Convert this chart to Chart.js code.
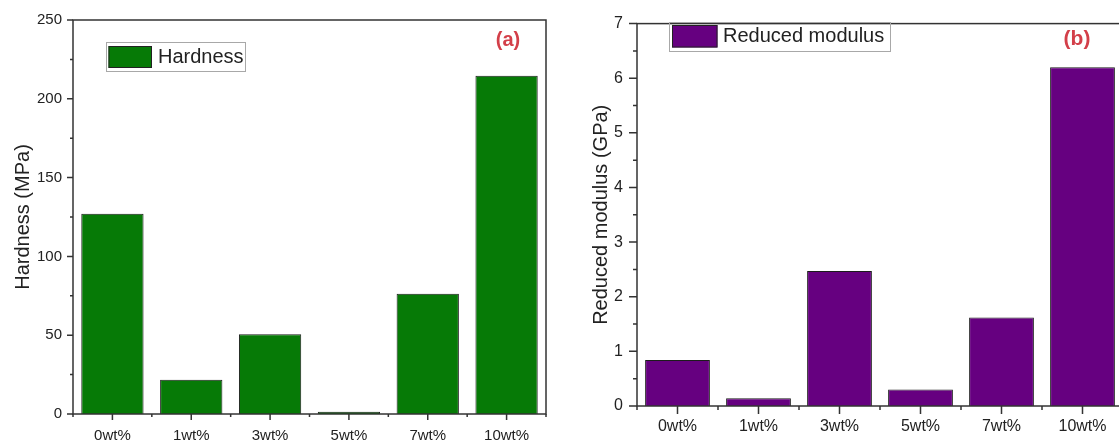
<!DOCTYPE html>
<html><head><meta charset="utf-8">
<script src="https://cdn.jsdelivr.net/npm/chart.js@4"></script>
<style>
html,body{margin:0;padding:0;background:#fff;overflow:hidden;width:1119px;height:447px;position:relative;}
#wa{position:absolute;left:0;top:0;width:560px;height:447px;}
#wb{position:absolute;left:560px;top:0;width:580px;height:447px;}
canvas{display:block;}
</style></head><body>
<div id="wa"><canvas id="ca" width="560" height="447"></canvas></div>
<div id="wb"><canvas id="cb" width="580" height="447"></canvas></div>
<script>
// ---- data ----
const categories = ['0wt%', '1wt%', '3wt%', '5wt%', '7wt%', '10wt%'];
const hardness = [127, 21.7, 50.6, 1.5, 76.3, 214.7];
const reducedModulus = [0.84, 0.14, 2.47, 0.30, 1.62, 6.20];
const hardnessAxis = [0, 250, 50];     // min, max, step
const modulusAxis = [0, 7, 1];

const FAMILY = "'Liberation Sans', Arial, Helvetica, sans-serif";
const INK = '#222';

const framePlugin = {
  id: 'frame',
  afterDraw(chart, args, o) {
    const {ctx, chartArea: a, scales: {x, y}} = chart;
    ctx.save();
    ctx.strokeStyle = '#333';
    ctx.lineWidth = o.lw;
    ctx.strokeRect(a.left, a.top, a.right - a.left, a.bottom - a.top);
    ctx.beginPath();
    const step = y.options.ticks.stepSize;
    for (let k = 0; y.min + k * step / 2 <= y.max + 1e-9; k++) {
      const v = y.min + k * step / 2;
      const py = y.getPixelForValue(v);
      const len = (k % 2 === 0) ? o.major : o.minor;
      ctx.moveTo(a.left - len, py); ctx.lineTo(a.left, py);
    }
    const n = chart.data.labels.length;
    const cw = (a.right - a.left) / n;
    for (let i = 0; i <= n; i++) {
      const px = a.left + i * cw;
      ctx.moveTo(px, a.bottom); ctx.lineTo(px, a.bottom + o.minor);
    }
    for (let i = 0; i < n; i++) {
      const px = x.getPixelForValue(i);
      ctx.moveTo(px, a.bottom); ctx.lineTo(px, a.bottom + o.major);
    }
    ctx.stroke();

    // legend
    const L = o.legend, ds = chart.data.datasets[0];
    ctx.lineWidth = 1;
    ctx.strokeStyle = '#a8a8a8';
    ctx.strokeRect(L.x + 0.5, L.y + 0.5, L.w, L.h);
    ctx.fillStyle = ds.backgroundColor;
    ctx.fillRect(L.sx, L.sy, L.sw, L.sh);
    ctx.strokeStyle = '#222';
    ctx.strokeRect(L.sx + 0.5, L.sy + 0.5, L.sw - 1, L.sh - 1);
    ctx.fillStyle = INK;
    ctx.font = L.fs + 'px ' + FAMILY;
    ctx.textBaseline = 'middle';
    ctx.textAlign = 'left';
    ctx.fillText(ds.label, L.tx, L.ty);

    // panel tag
    const T = o.tag;
    ctx.fillStyle = '#d33f49';
    ctx.font = 'bold ' + T.fs + 'px ' + FAMILY;
    ctx.textAlign = 'center';
    ctx.fillText(T.text, T.x, T.y);
    ctx.restore();
  }
};

function makeChart(id, cfg) {
  return new Chart(document.getElementById(id), {
    type: 'bar',
    data: {
      labels: categories,
      datasets: [{
        label: cfg.label,
        data: cfg.values,
        backgroundColor: cfg.color,
        borderColor: '#1c1c1c',
        borderWidth: 1,
        barPercentage: cfg.barPct,
        categoryPercentage: 1
      }]
    },
    options: {
      responsive: false,
      animation: false,
      events: [],
      layout: {padding: {top: cfg.padTop, right: cfg.padRight, left: 0, bottom: 0}},
      plugins: {
        legend: {display: false},
        tooltip: {enabled: false},
        frame: cfg.frame
      },
      scales: {
        x: {
          type: 'category',
          offset: true,
          afterFit: s => { s.height = cfg.xHeight; },
          grid: {display: false, drawTicks: false},
          border: {display: false},
          ticks: {padding: cfg.xPad, maxRotation: 0, autoSkip: false, color: INK,
                  font: {size: cfg.tickFs, family: FAMILY}}
        },
        y: {
          min: cfg.axis[0], max: cfg.axis[1],
          afterFit: s => { s.width = cfg.yWidth; },
          grid: {display: false, drawTicks: false},
          border: {display: false},
          ticks: {stepSize: cfg.axis[2], padding: cfg.yPad, color: INK,
                  font: {size: cfg.tickFs, family: FAMILY}},
          title: {display: true, text: cfg.yTitle, color: INK,
                  font: {size: 20, family: FAMILY},
                  padding: {top: cfg.titlePad, bottom: 0}}
        }
      }
    },
    plugins: [framePlugin]
  });
}

makeChart('ca', {
  label: 'Hardness', values: hardness, color: '#067a06', barPct: 0.79,
  axis: hardnessAxis, yTitle: 'Hardness (MPa)',
  padTop: 16, padRight: 14, xHeight: 33, yWidth: 73,
  xPad: 13, yPad: 11, tickFs: 15, titlePad: 11,
  frame: {lw: 1.5, major: 6, minor: 3,
    legend: {x: 106, y: 42, w: 139, h: 29, sx: 108.5, sy: 46, sw: 43.5, sh: 22, tx: 158, ty: 57, fs: 20},
    tag: {text: '(a)', x: 508, y: 40, fs: 20}}
});

makeChart('cb', {
  label: 'Reduced modulus', values: reducedModulus, color: '#660080', barPct: 0.80,
  axis: modulusAxis, yTitle: 'Reduced modulus (GPa)',
  padTop: 14, padRight: 17, xHeight: 41, yWidth: 77,
  xPad: 11, yPad: 14, tickFs: 16, titlePad: 29,
  frame: {lw: 1.5, major: 8, minor: 4,
    legend: {x: 109, y: 22, w: 221, h: 29, sx: 112, sy: 25, sw: 45.5, sh: 22.5, tx: 163, ty: 36.5, fs: 20},
    tag: {text: '(b)', x: 517, y: 39, fs: 21}}
});
</script>
</body></html>
